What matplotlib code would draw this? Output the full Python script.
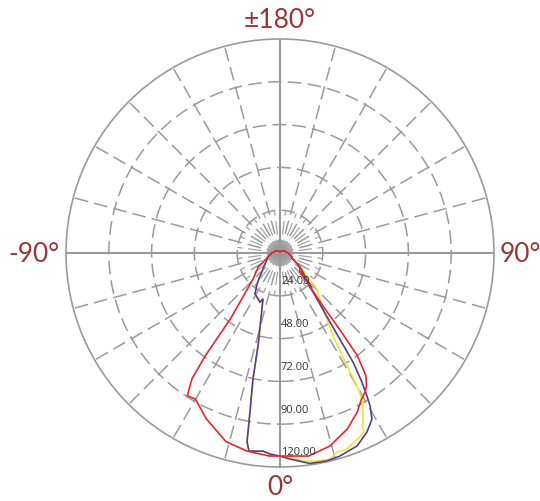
import numpy as np
import matplotlib
matplotlib.use('Agg')
import matplotlib.pyplot as plt

# Curvas de intensidade (graus, valor)
red_ang = [-180, -150, -120, -90, -72, -57, -46, -37, -36, -35, -33, -30, -24, -16, -9.5, -3,
           3, 8, 14.5, 21, 26, 29, 31.5, 33, 35, 37, 38, 39, 43, 46, 47, 48, 55, 65, 90, 120, 150, 180]
red_val = [0.7, 1.2, 2.5, 4.6, 7.1, 14.6, 21, 46, 71.5, 86, 95.4, 94.7, 101.7, 110, 112.6, 114,
           114, 115, 111.8, 105.6, 99, 94, 91.4, 89, 84, 72, 54, 38, 22, 15.5, 18, 15, 13.7, 8, 4.6, 2.5, 1.2, 0.7]

purple_ang = [-180, -150, -120, -90, -72, -54, -36.6, -31.4, -22.2, -20.3, -13.3, -12.1, -10.7, -9.9,
              -8.9, -6.9, -4.9, -2.8, 0, 2.8, 8.1, 12.6, 16.2, 21.8, 25.9, 29.0, 30.5, 31.3, 32.4,
              33.8, 35.9, 40.2, 41.5, 42.3, 44, 55, 65, 90, 120, 150, 180]
purple_val = [0.7, 1.2, 2.5, 4.6, 7.0, 10.4, 21.6, 26.9, 29.7, 27.5, 53.6, 72.3, 90.7, 107.6,
              112.4, 111.9, 111.5, 112.9, 113.9, 115.7, 119.2, 119.5, 118.8, 116.5, 111.6, 106.4, 99.5, 93.9, 85.7,
              73.6, 47.8, 28.7, 24.5, 26.5, 23, 13.7, 8, 4.6, 2.5, 1.2, 0.7]

yellow_ang = [-180, -150, -120, -90, -72, -54, -36.6, -31.4, -22.2, -20.3, -13.3, -12.1, -10.7, -9.9,
              -8.9, -6.9, -4.9, -2.8, 0, 2.8, 6.3, 10.1, 13.6, 16, 18.9, 20.7, 23.5, 25.1, 25.6, 27.6,
              29.3, 30.1, 30.7, 32.6, 38.4, 45.8, 54, 73, 90, 120, 150, 180]
yellow_val = [0.7, 1.2, 2.5, 4.6, 7.0, 10.4, 21.6, 26.9, 29.7, 27.5, 53.6, 72.3, 90.7, 107.6,
              112.4, 111.9, 111.5, 112.9, 114, 114.5, 117.4, 118.5, 118.9, 116.1, 116.2, 114.5, 112.5, 110.9, 107.6, 100.6,
              93.9, 86.2, 73.7, 55.2, 37.9, 29.0, 15.3, 5.9, 4.6, 2.5, 1.2, 0.7]

rings = [24, 48, 72, 96, 120]
ring_labels = ['24.00', '48.00', '72.00', '90.00', '120.00']

cinza = '#9a9a9a'
vermelho_txt = '#9b3535'

fig = plt.figure(figsize=(5.4, 5.02), dpi=100)
ax = fig.add_axes([66 / 540, 34 / 502, 428 / 540, 428 / 502], projection='polar')
ax.set_theta_zero_location('S')
ax.set_theta_direction(1)
ax.set_ylim(0, 120)
ax.grid(False)
ax.set_xticks([])
ax.set_yticks([])
ax.spines['polar'].set_color(cinza)
ax.spines['polar'].set_linewidth(1.2)

# aneis tracejados
t = np.linspace(0, 2 * np.pi, 721)
for r in rings[:-1]:
    ax.plot(t, np.full_like(t, r), color=cinza, lw=1.1, ls=(0, (9, 4)), zorder=1)

# raios tracejados
for a in np.arange(0, 360, 7.5):
    if a % 90 == 0:
        continue
    if a % 15 == 0:
        ax.plot([np.radians(a)] * 2, [0, 120], color=cinza, lw=1.1, ls=(0, (9, 4)), zorder=1)
    else:
        ax.plot([np.radians(a)] * 2, [0, 24], color=cinza, lw=0.8, ls=(0, (12, 5)), zorder=1)

# eixos
for a in [0, 90, 180, 270]:
    ax.plot([np.radians(a)] * 2, [0, 120], color=cinza, lw=1.5, zorder=1)

ax.plot(np.radians(yellow_ang), yellow_val, color='#efe33c', lw=1.2, zorder=3)
ax.plot(np.radians(purple_ang), purple_val, color='#5a3d8d', lw=1.2, zorder=4)
ax.plot(np.radians(red_ang), red_val, color='#e8262b', lw=1.2, zorder=5)

for r, lab in zip(rings, ring_labels):
    ax.annotate(lab, xy=(0, r), xytext=(1, 15), textcoords='offset pixels',
                ha='left', va='center', fontsize=8, color='#333333', family='Open Sans', zorder=6)

fonte = dict(fontsize=19, color=vermelho_txt, family='Lato')
fig.text(280 / 540, 1 - 20 / 502, '±180°', ha='center', va='center', **fonte)
fig.text(280 / 540, 1 - 488 / 502, '0°', ha='center', va='center', **fonte)
fig.text(8 / 540, 1 - 254 / 502, '-90°', ha='left', va='center', **fonte)
fig.text(500 / 540, 1 - 254 / 502, '90°', ha='left', va='center', **fonte)

fig.savefig('out.png', dpi=100)
